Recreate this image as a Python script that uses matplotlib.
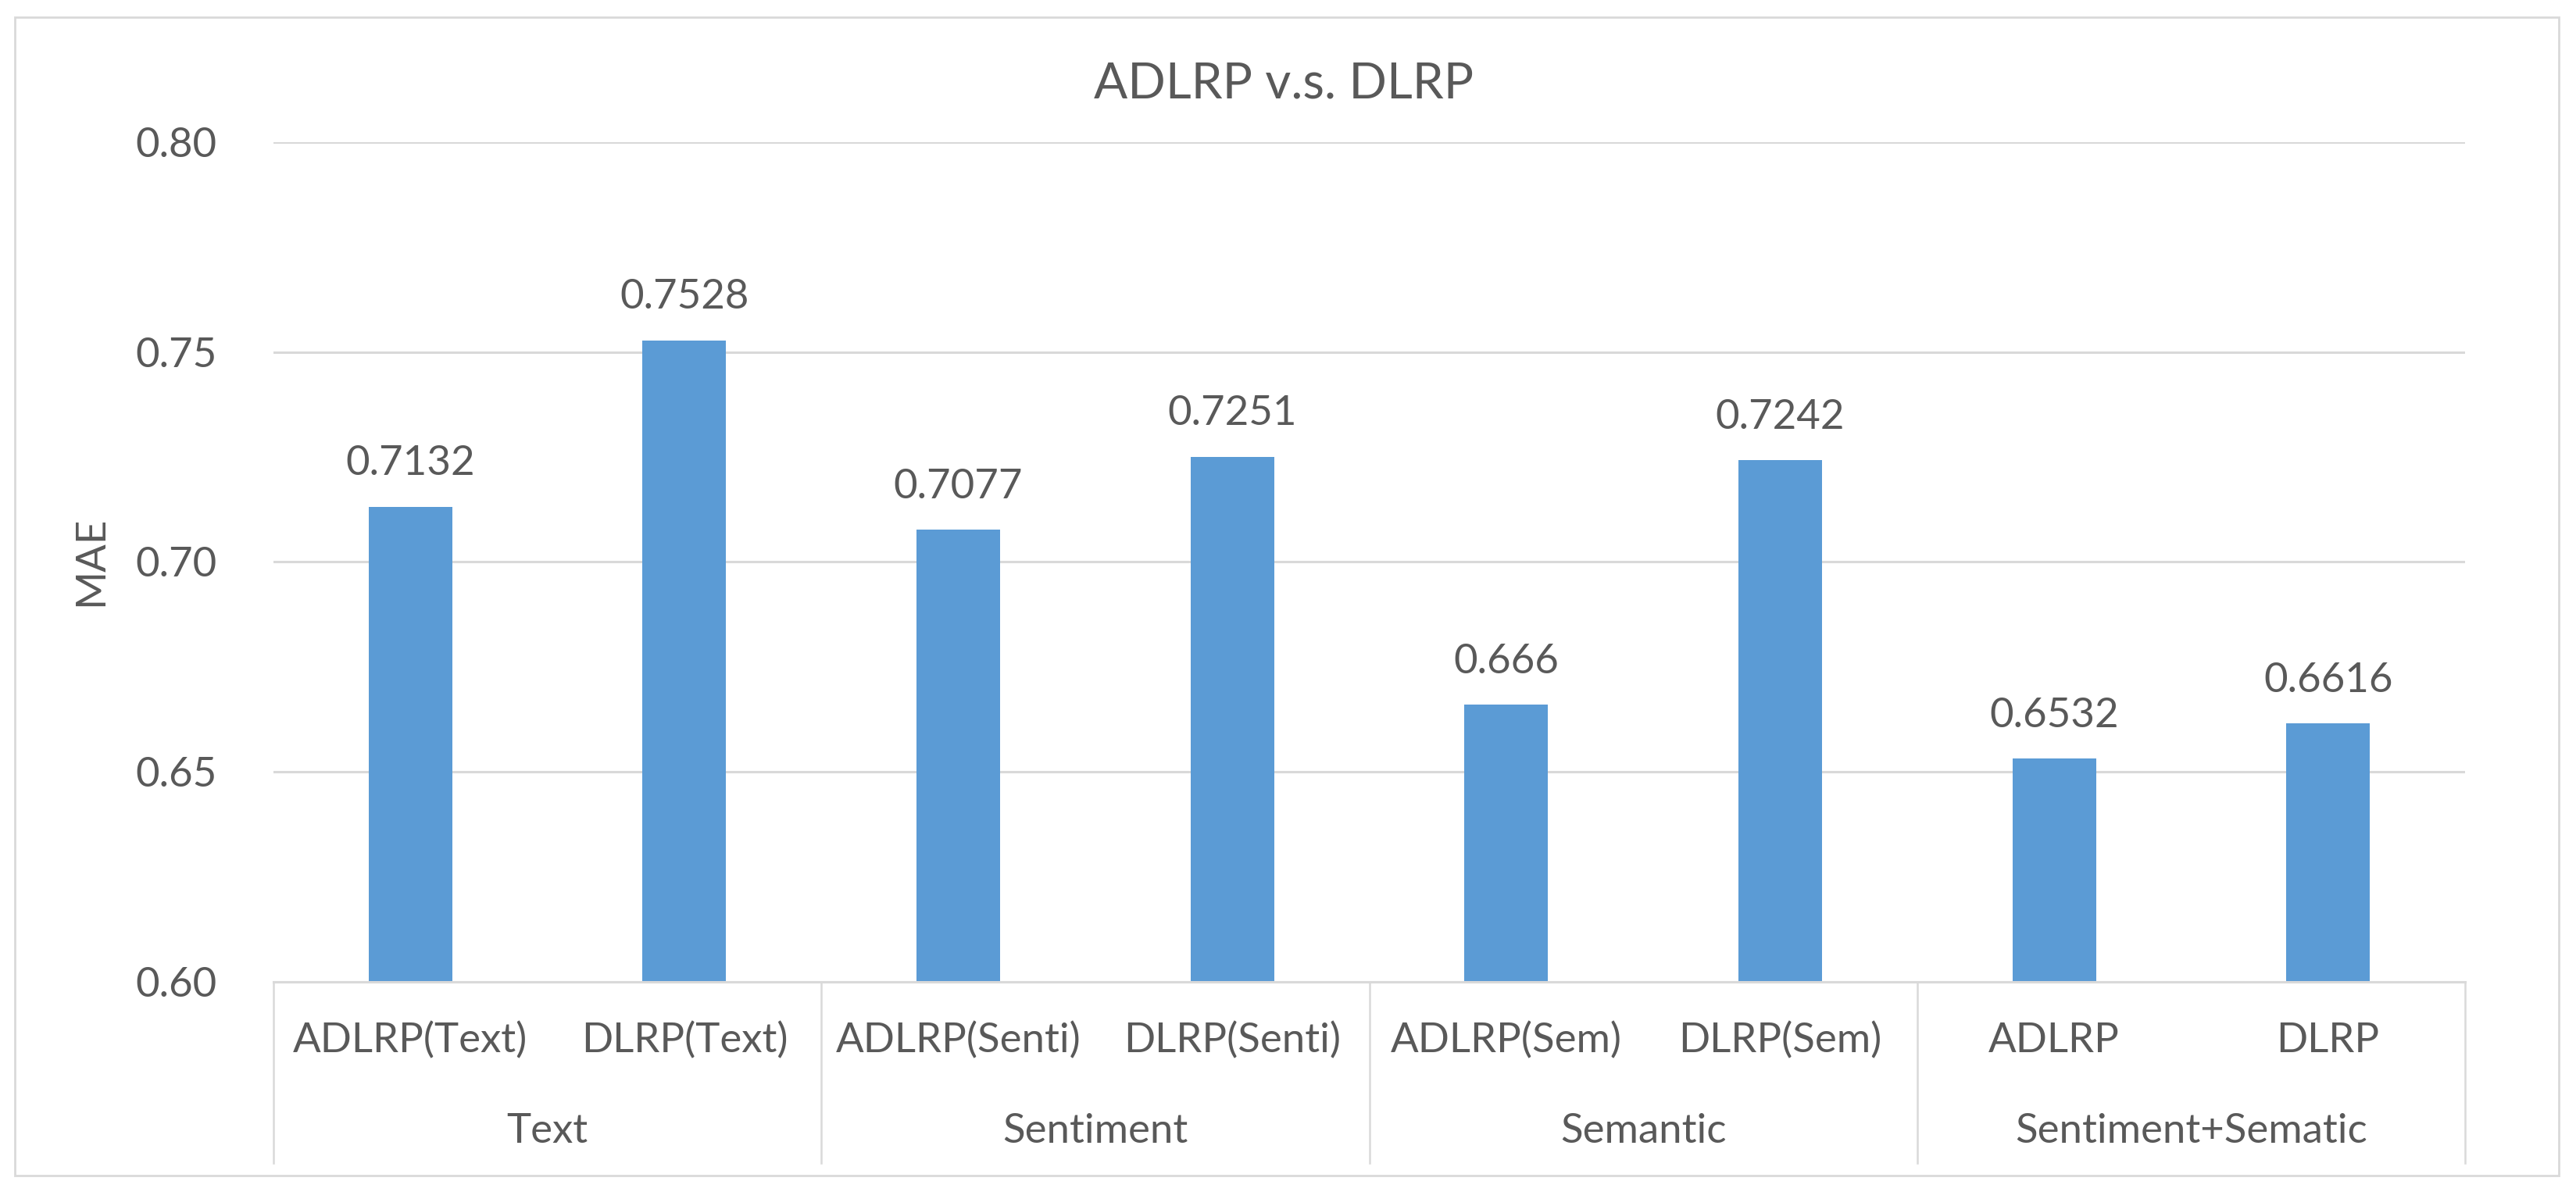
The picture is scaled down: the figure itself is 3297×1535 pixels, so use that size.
import matplotlib
matplotlib.use("Agg")
import matplotlib.pyplot as plt
from matplotlib.patches import Rectangle
import matplotlib.transforms as mtransforms

# ---- data ----
bar_labels = ["ADLRP(Text)", "DLRP(Text)", "ADLRP(Senti)", "DLRP(Senti)",
              "ADLRP(Sem)", "DLRP(Sem)", "ADLRP", "DLRP"]
mae_values = [0.7132, 0.7528, 0.7077, 0.7251, 0.666, 0.7242, 0.6532, 0.6616]
value_texts = ["0.7132", "0.7528", "0.7077", "0.7251", "0.666", "0.7242", "0.6532", "0.6616"]
group_labels = ["Text", "Sentiment", "Semantic", "Sentiment+Sematic"]
group_sizes = [2, 2, 2, 2]
y_ticks = [0.60, 0.65, 0.70, 0.75, 0.80]
y_tick_labels = ["0.60", "0.65", "0.70", "0.75", "0.80"]
title_text = "ADLRP v.s. DLRP"
y_label = "MAE"

# ---- style ----
plt.rcParams['font.family'] = ['Lato', 'DejaVu Sans']
TXT = "#595959"
GRID = "#D9D9D9"
BAR = "#5B9BD5"
FS = 38

W, H = 3297, 1535
fig = plt.figure(figsize=(W / 100, H / 100), dpi=100)
fig.patch.set_facecolor("white")

ax_left, ax_right = 350 / W, 3155 / W
ax_bottom, ax_top = 1 - 1257 / H, 1 - 182 / H
ax = fig.add_axes([ax_left, ax_bottom, ax_right - ax_left, ax_top - ax_bottom])

x = list(range(len(mae_values)))
bars = ax.bar(x, [v - 0.60 for v in mae_values], bottom=0.60, width=0.305,
              color=BAR, zorder=3)

ax.set_xlim(-0.5, len(mae_values) - 0.5)
ax.set_ylim(0.60, 0.80)
ax.set_yticks(y_ticks)
ax.set_yticklabels(y_tick_labels)
ax.tick_params(axis='y', length=0, pad=52, labelsize=FS, labelcolor=TXT)
ax.set_xticks([])

for s in ["left", "right", "top"]:
    ax.spines[s].set_visible(False)
ax.spines["bottom"].set_color(GRID)
ax.spines["bottom"].set_linewidth(2.2)
ax.spines["bottom"].set_zorder(4)

ax.yaxis.grid(True, color=GRID, linewidth=2.2, zorder=0)
ax.set_axisbelow(True)

# value labels
for xi, v, t in zip(x, mae_values, value_texts):
    ax.annotate(t, (xi, v), xytext=(0, 29), textcoords="offset points",
                ha="center", va="baseline", fontsize=FS, color=TXT)

# multi-level category axis
trans = mtransforms.blended_transform_factory(ax.transData, ax.transAxes)
for xi, lab in zip(x, bar_labels):
    ax.text(xi, -0.070, lab, transform=trans, ha="center", va="center",
            fontsize=FS, color=TXT, clip_on=False)

start = -0.5
bounds = [start]
for gs in group_sizes:
    bounds.append(bounds[-1] + gs)
for b in bounds:
    ax.plot([b, b], [0, -0.216], transform=trans, color=GRID, linewidth=1.8,
            clip_on=False, zorder=2)
for i, g in enumerate(group_labels):
    cx = (bounds[i] + bounds[i + 1]) / 2
    ax.text(cx, -0.178, g, transform=trans, ha="center", va="center",
            fontsize=FS, color=TXT, clip_on=False)

# y label and title
fig.text(117 / W, 1 - 718 / H, y_label, rotation=90, ha="center", va="center",
         fontsize=FS, color=TXT)
fig.text(1643 / W, 1 - 107 / H, title_text, ha="center", va="center",
         fontsize=46, color=TXT)

# outer chart border
fig.patches.append(Rectangle((19 / W, 1 - 1505 / H), (3275 - 19) / W, (1505 - 22) / H,
                             transform=fig.transFigure, fill=False,
                             edgecolor=GRID, linewidth=2.0))

fig.savefig("out.png", dpi=100, facecolor="white")
